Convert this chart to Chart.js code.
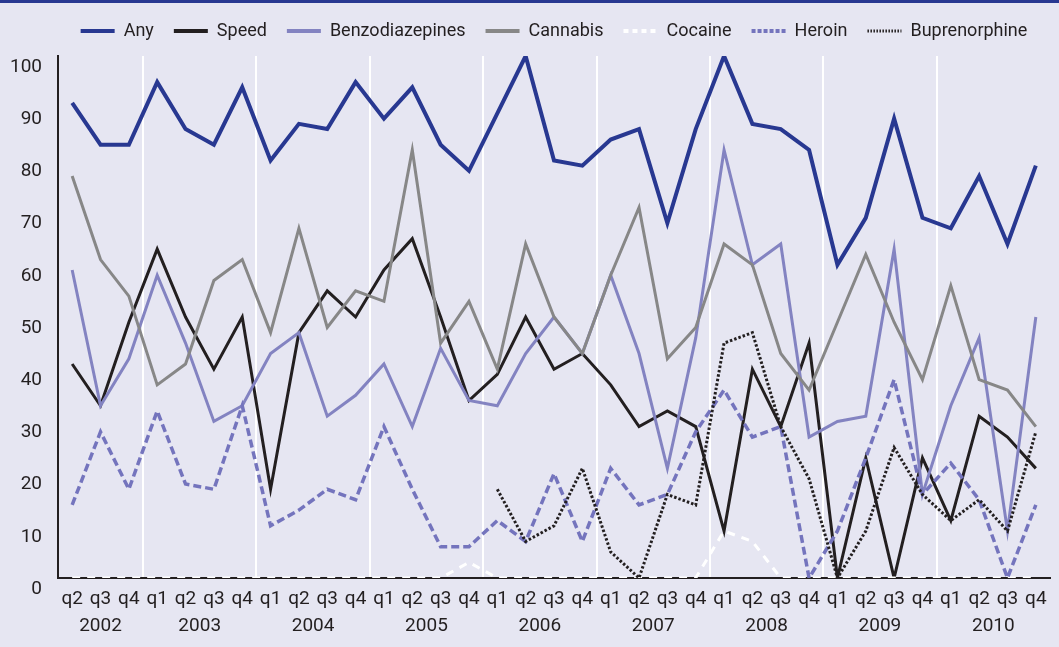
<!DOCTYPE html>
<html>
<head>
<meta charset="utf-8">
<script src="https://cdn.jsdelivr.net/npm/chart.js@4.4.1/dist/chart.umd.min.js"></script>
<style>
  html, body { margin: 0; padding: 0; background: #e6e6f2; }
  #wrap { width: 1059px; height: 647px; position: relative; }
</style>
</head>
<body>
<div id="wrap"><canvas id="chart"></canvas></div>
<script>
const quarters = [
    "q2", "q3", "q4",
    "q1", "q2", "q3", "q4",
    "q1", "q2", "q3", "q4",
    "q1", "q2", "q3", "q4",
    "q1", "q2", "q3", "q4",
    "q1", "q2", "q3", "q4",
    "q1", "q2", "q3", "q4",
    "q1", "q2", "q3", "q4",
    "q1", "q2", "q3", "q4",
];
const years = ["2002", "2003", "2004", "2005", "2006", "2007", "2008", "2009", "2010"];

const anyDrug = [91, 83, 83, 95, 86, 83, 94, 80, 87, 86, 95, 88, 94, 83, 78, 89, 100, 80, 79, 84, 86, 68, 86, 100, 87, 86, 82, 60, 69, 88, 69, 67, 77, 64, 79];
const speed = [41, 33, 49, 63, 50, 40, 50, 17, 47, 55, 50, 59, 65, 50, 34, 39, 50, 40, 43, 37, 29, 32, 29, 9, 40, 29, 45, 0, 23, 0, 23, 11, 31, 27, 21];
const benzodiazepines = [59, 33, 42, 58, 45, 30, 33, 43, 47, 31, 35, 41, 29, 44, 34, 33, 43, 50, 43, 58, 43, 21, 46, 82, 60, 64, 27, 30, 31, 63, 16, 33, 46, 9, 50];
const cannabis = [77, 61, 54, 37, 41, 57, 61, 47, 67, 48, 55, 53, 82, 45, 53, 40, 64, 50, 43, 58, 71, 42, 48, 64, 60, 43, 36, 49, 62, 49, 38, 56, 38, 36, 29];
const cocaine = [0, 0, 0, 0, 0, 0, 0, 0, 0, 0, 0, 0, 0, 0, 3, 0, 0, 0, 0, 0, 0, 0, 0, 9, 7, 0, 0, 0, 0, 0, 0, 0, 0, 0, 0];
const heroin = [14, 28, 17, 32, 18, 17, 33, 10, 13, 17, 15, 29, 17, 6, 6, 11, 7, 20, 7, 21, 14, 16, 28, 36, 27, 29, 0, 9, 23, 38, 16, 22, 15, 0, 14];
const buprenorphine = [null, null, null, null, null, null, null, null, null, null, null, null, null, null, null, 17, 7, 10, 21, 5, 0, 16, 14, 45, 47, 29, 19, 0, 9, 25, 16, 11, 15, 9, 28];

const FONT = "Roboto, 'Liberation Sans', sans-serif";
const TEXT = "#231f20";

const series = [
    { label: "Any", data: anyDrug, color: "#283891", width: 4, dash: [], legendDash: [], legendWidth: 4 },
    { label: "Speed", data: speed, color: "#231f20", width: 3, dash: [], legendDash: [], legendWidth: 4 },
    { label: "Benzodiazepines", data: benzodiazepines, color: "#8383c1", width: 3, dash: [], legendDash: [], legendWidth: 4 },
    { label: "Cannabis", data: cannabis, color: "#878787", width: 3, dash: [], legendDash: [], legendWidth: 4 },
    { label: "Cocaine", data: cocaine, color: "#ffffff", width: 3, dash: [8, 7], legendDash: [5, 4], legendWidth: 4 },
    { label: "Heroin", data: heroin, color: "#7474bd", width: 3.5, dash: [8, 4], legendDash: [4, 2], legendWidth: 4 },
    { label: "Buprenorphine", data: buprenorphine, color: "#231f20", width: 3, dash: [2.5, 2], legendDash: [1.5, 1.5], legendWidth: 3 },
];

const background = {
    id: "background",
    beforeDraw(chart) {
        const { ctx, width, height } = chart;
        ctx.save();
        ctx.fillStyle = "#e6e6f2";
        ctx.fillRect(0, 0, width, height);
        ctx.fillStyle = "#283891";
        ctx.fillRect(0, 0, width, 3);
        ctx.restore();
    },
};

// fixed legend height so the plot starts where the original does
const legendHeight = {
    id: "legendHeight",
    afterInit(chart) {
        const legend = chart.legend;
        const origFit = legend.fit;
        legend.fit = function () {
            origFit.call(this);
            this.height = 54;
        };
    },
};

// year captions centred under each group of quarters
const yearLabels = {
    id: "yearLabels",
    afterDraw(chart) {
        const scale = chart.scales.x;
        const ctx = chart.ctx;
        const groups = [];
        quarters.forEach((q, i) => {
            if (i === 0 || q === "q1") groups.push([i, i]);
            else groups[groups.length - 1][1] = i;
        });
        ctx.save();
        ctx.font = "19px " + FONT;
        ctx.fillStyle = TEXT;
        ctx.textAlign = "center";
        ctx.textBaseline = "middle";
        groups.forEach(([a, b], k) => {
            const x = (scale.getPixelForValue(a) + scale.getPixelForValue(b)) / 2;
            ctx.fillText(years[k], x, chart.chartArea.bottom + 48);
        });
        ctx.restore();
    },
};

new Chart(document.getElementById("chart"), {
    type: "line",
    data: {
        labels: quarters,
        datasets: series.map((s, i) => ({
            label: s.label,
            data: s.data,
            borderColor: s.color,
            backgroundColor: s.color,
            borderWidth: s.width,
            borderDash: s.dash,
            pointRadius: 0,
            tension: 0,
            fill: false,
            order: series.length - i,
        })),
    },
    options: {
        responsive: true,
        maintainAspectRatio: false,
        animation: false,
        devicePixelRatio: 1,
        layout: { padding: { top: 2, right: 9, bottom: 0, left: 0 } },
        scales: {
            x: {
                offset: true,
                grid: {
                    offset: true,
                    drawTicks: false,
                    lineWidth: 2,
                    color: (ctx) => (ctx.index > 0 && (ctx.index - 3) % 4 === 0 ? "#ffffff" : "rgba(0,0,0,0)"),
                },
                border: { display: true, color: "#231f20", width: 2 },
                ticks: {
                    autoSkip: false,
                    maxRotation: 0,
                    padding: 10,
                    color: TEXT,
                    font: { family: FONT, size: 19 },
                },
                afterFit: (scale) => { scale.height = 69; },
            },
            y: {
                min: 0,
                max: 100,
                grid: { display: false, drawTicks: false },
                border: { display: true, color: "#231f20", width: 2 },
                ticks: {
                    stepSize: 10,
                    padding: 16,
                    labelOffset: 11,
                    color: TEXT,
                    font: { family: FONT, size: 19 },
                },
                afterFit: (scale) => { scale.width = 58; },
            },
        },
        plugins: {
            tooltip: { enabled: false },
            legend: {
                position: "top",
                fullSize: false,
                labels: {
                    usePointStyle: true,
                    pointStyle: "line",
                    pointStyleWidth: 34,
                    padding: 20,
                    color: TEXT,
                    font: { family: FONT, size: 18 },
                    sort: (a, b) => a.datasetIndex - b.datasetIndex,
                    generateLabels: (chart) => Chart.defaults.plugins.legend.labels.generateLabels(chart).map((item) => {
                        const s = series[item.datasetIndex];
                        item.lineWidth = s.legendWidth;
                        item.lineDash = s.legendDash;
                        return item;
                    }),
                },
            },
        },
    },
    plugins: [background, legendHeight, yearLabels],
});
</script>
</body>
</html>
